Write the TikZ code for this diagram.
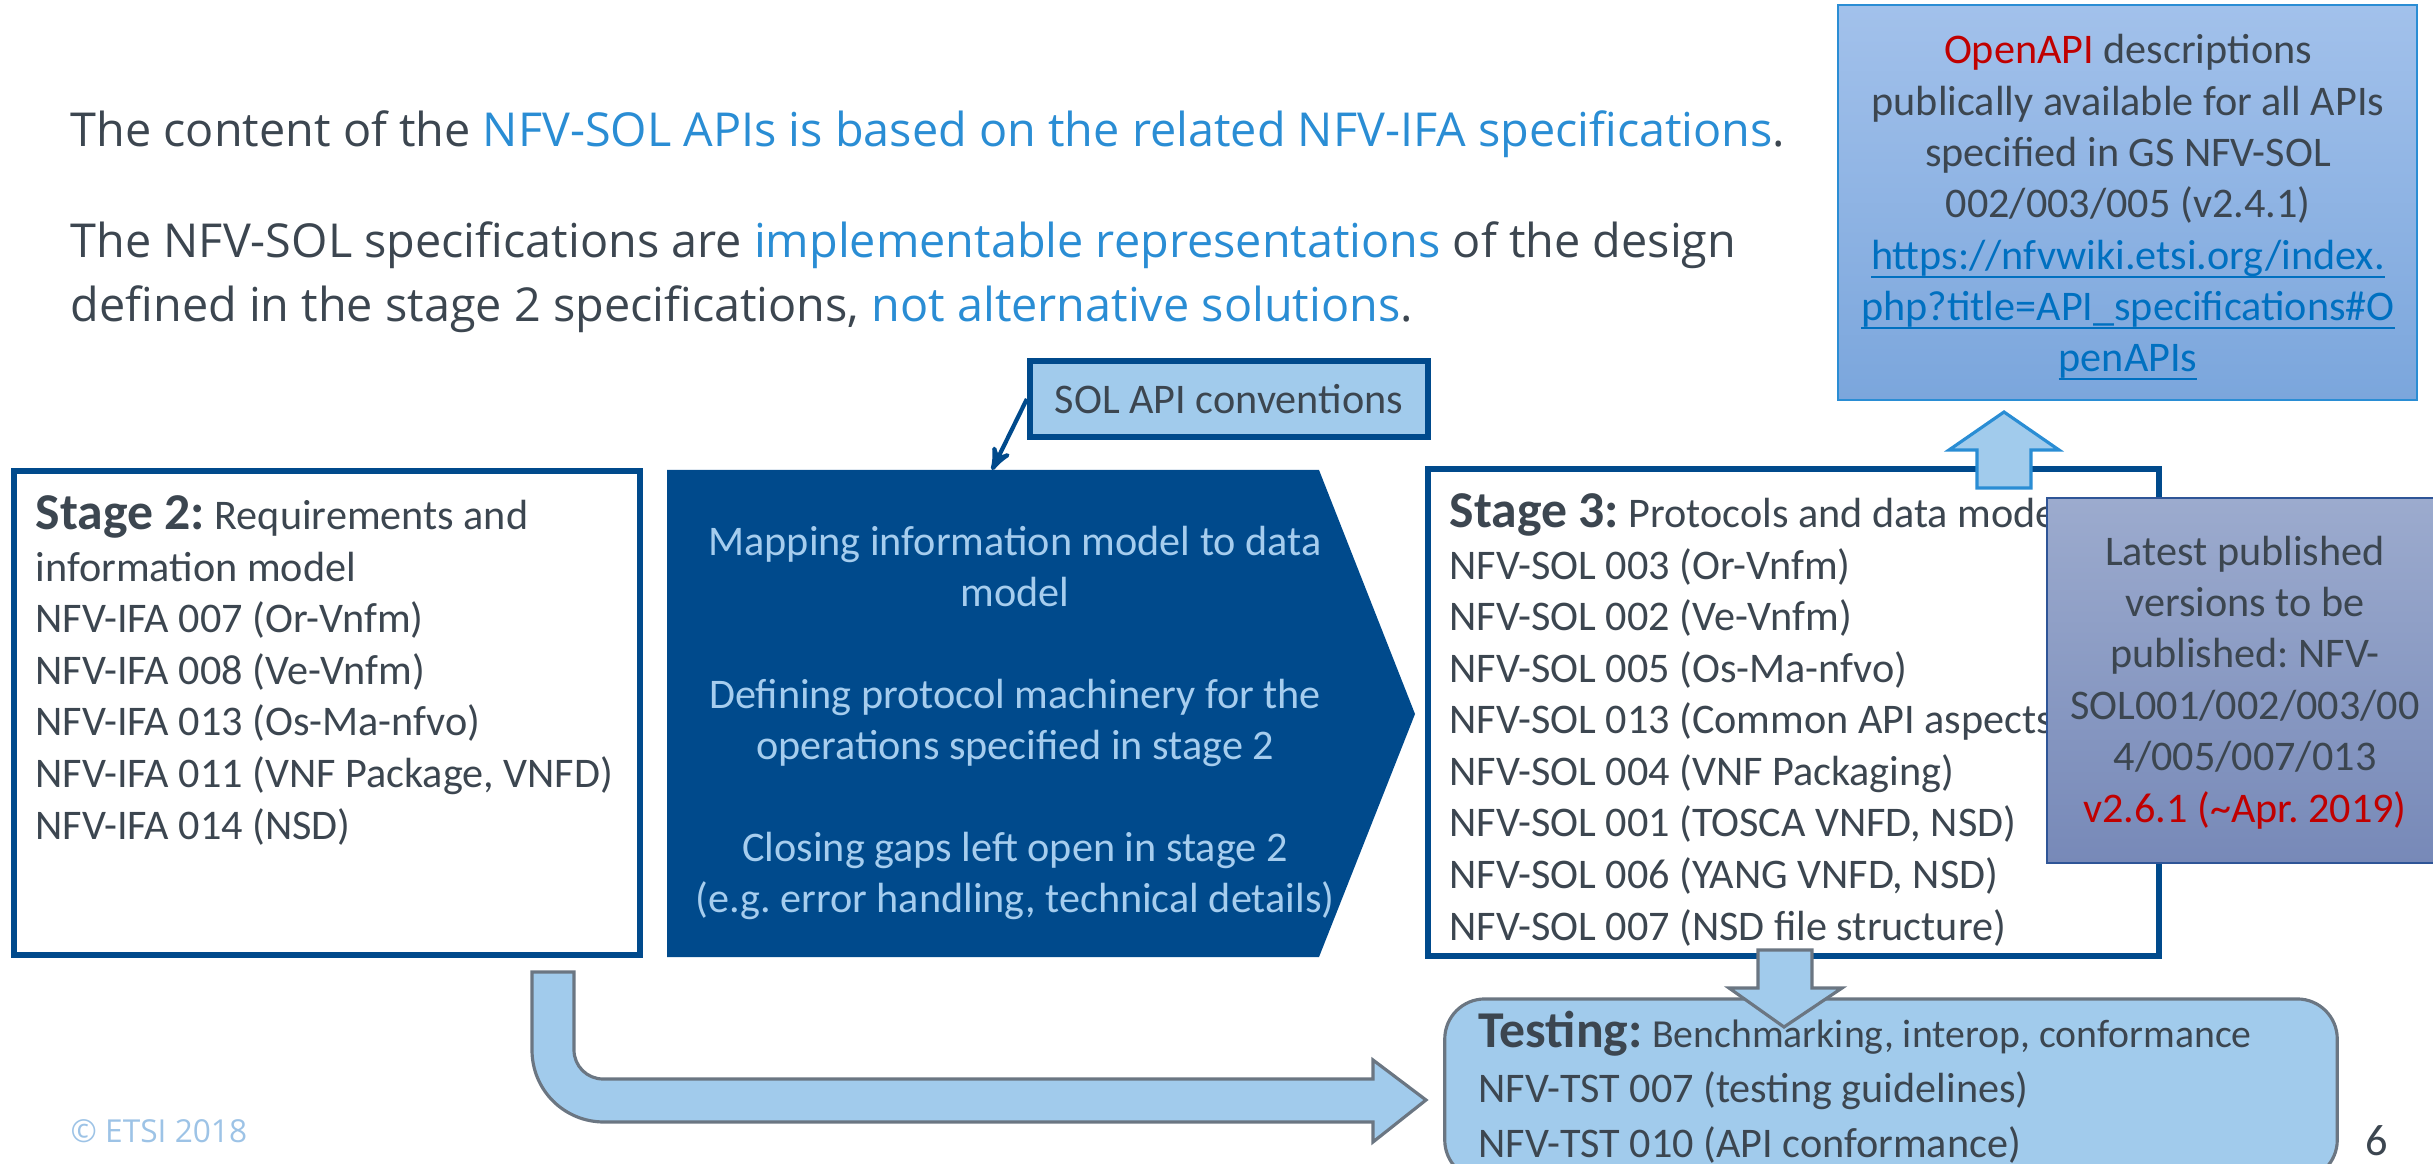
\documentclass[tikz,border=0pt]{standalone}
\usepackage{fontspec}
\setmainfont{Carlito}
\newfontfamily\opensans{Open Sans}
\usetikzlibrary{arrows,positioning}
\frenchspacing

\definecolor{etsidark}{HTML}{004A8C}
\definecolor{etsilight}{HTML}{A1CBEC}
\definecolor{etsiblue}{HTML}{2A8DD4}
\definecolor{txtgray}{HTML}{3C4650}
\definecolor{chevtxt}{HTML}{A6CDEE}
\definecolor{arrgray}{HTML}{6B7682}
\definecolor{linkblue}{HTML}{0070C0}
\definecolor{redtxt}{HTML}{C00000}
\definecolor{copyblue}{HTML}{9DC3E6}
\definecolor{latesttop}{HTML}{9CABCE}
\definecolor{latestbot}{HTML}{7789B8}
\definecolor{latestline}{HTML}{2F5597}
\definecolor{oapitop}{HTML}{A2C1EB}
\definecolor{oapibot}{HTML}{7BA6DC}

\newcommand{\sizelist}{\fontsize{12}{14.65}\selectfont}
\newcommand{\sizehead}{\fontsize{14.7}{16}\selectfont\bfseries}
\newcommand{\sizesub}{\fontsize{11.3}{13}\selectfont}
\newsavebox{\lnkbox}
\newcommand{\lnk}[1]{\sbox{\lnkbox}{#1}\rlap{\rule[-2.4pt]{\wd\lnkbox}{0.6pt}}\usebox{\lnkbox}}

\tikzset{
    %Define standard arrow tip
    >=stealth',
    %Define style for the intro lines
    introtext/.style={
           inner sep=0pt,
           text=txtgray,
           font=\opensans\fontsize{13.3}{18.2}\selectfont},
    %Define style for framed stage boxes
    stagebox/.style={
           rectangle,
           draw=etsidark, line width=1.8pt,
           fill=white},
    %Define style for texts in boxes (placed by their last line)
    listtext/.style={
           inner sep=0pt,
           align=left,
           text=txtgray,
           font=\sizelist},
    boxtext/.style={
           inner sep=0pt,
           align=center,
           text=txtgray,
           font=\fontsize{12}{14.6}\selectfont},
    chevron/.style={
           fill=etsidark},
    chevtext/.style={
           inner sep=0pt,
           align=center,
           text=chevtxt,
           font=\fontsize{12}{14.5}\selectfont},
    solbox/.style={
           rectangle,
           draw=etsidark, line width=1.7pt,
           fill=etsilight,
           text=txtgray,
           minimum width=3.98cm,
           minimum height=0.76cm,
           font=\fontsize{12}{14}\selectfont},
    latestbox/.style={
           rectangle,
           draw=latestline, line width=0.6pt,
           top color=latesttop, bottom color=latestbot,
           minimum width=3.96cm,
           minimum height=3.65cm},
    oapibox/.style={
           rectangle,
           draw=etsiblue, line width=0.7pt,
           top color=oapitop, bottom color=oapibot,
           minimum width=5.79cm,
           minimum height=3.95cm},
    testbox/.style={
           rectangle,
           rounded corners=0.4cm,
           draw=arrgray, line width=0.9pt,
           fill=etsilight,
           minimum width=8.92cm,
           minimum height=1.81cm},
    % Define arrow styles
    convarrow/.style={
           ->,
           draw=etsidark,
           line width=1.2pt},
    blockgray/.style={
           fill=etsilight,
           draw=arrgray,
           line width=0.9pt},
    blockblue/.style={
           fill=etsilight,
           draw=etsiblue,
           line width=0.9pt}
}

\begin{document}
\begin{tikzpicture}[x=0.01cm, y=-0.01cm, node distance=1cm]
 \useasboundingbox (0,0) rectangle (2433,1164);
 \clip (0,0) rectangle (2433,1164);
 %intro
    \node[introtext, anchor=base west] (introone) at (70,147)
        {The content of the \textcolor{etsiblue}{NFV-SOL APIs is based on the related NFV-IFA specifications}.};
    \node[introtext, anchor=base west, align=left] (introtwo) at (70,322)
        {The NFV-SOL specifications are \textcolor{etsiblue}{implementable representations} of the design\\
         defined in the stage 2 specifications, \textcolor{etsiblue}{not alternative solutions}.};
 %nodes
    \node[stagebox, minimum width=6.26cm, minimum height=4.84cm] (stagetwo) at (327,713) {};
    \node[listtext, anchor=base west] (stagetwotxt) at (35,839)
        {{\sizehead Stage 2:} Requirements and\\
         information model\\
         NFV-IFA 007 (Or-Vnfm)\\
         NFV-IFA 008 (Ve-Vnfm)\\
         NFV-IFA 013 (Os-Ma-nfvo)\\
         NFV-IFA 011 (VNF Package, VNFD)\\
         NFV-IFA 014 (NSD)};
    \fill[chevron] (667,470) -- (1319,470) -- (1415,714) -- (1319,957) -- (667,957) -- cycle;
    \coordinate (chevtop) at (992,470);
    \node[chevtext, anchor=base] (chevtxt) at (1015,912)
        {Mapping information model to data\\
         model\\[14.5pt]
         Defining protocol machinery for the\\
         operations specified in stage 2\\[14.5pt]
         Closing gaps left open in stage 2\\
         (e.g. error handling, technical details)};
    \node[solbox] (solconv) at (1229,399) {SOL API conventions};
    \node[stagebox, minimum width=7.31cm, minimum height=4.87cm] (stagethree) at (1793.5,712.5) {};
    \node[listtext, anchor=base west] (stagethreetxt) at (1449,940)
        {{\sizehead Stage 3:} Protocols and data models\\
         NFV-SOL 003 (Or-Vnfm)\\
         NFV-SOL 002 (Ve-Vnfm)\\
         NFV-SOL 005 (Os-Ma-nfvo)\\
         NFV-SOL 013 (Common API aspects)\\
         NFV-SOL 004 (VNF Packaging)\\
         NFV-SOL 001 (TOSCA VNFD, NSD)\\
         NFV-SOL 006 (YANG VNFD, NSD)\\
         NFV-SOL 007 (NSD file structure)};
    \node[latestbox] (latest) at (2245,680.5) {};
    \node[boxtext, anchor=base] (latesttxt) at (2245,822)
        {Latest published\\
         versions to be\\
         published: NFV-\\
         SOL001/002/003/00\\
         4/005/007/013\\
         \textcolor{redtxt}{v2.6.1 (\textasciitilde Apr. 2019)}};
    \node[oapibox] (openapi) at (2127.5,202.5) {};
    \node[boxtext, anchor=base] (openapitxt) at (2128,372)
        {\textcolor{redtxt}{OpenAPI} descriptions\\
         publically available for all APIs\\
         specified in GS NFV-SOL\\
         002/003/005 (v2.4.1)\\
         \textcolor{linkblue}{\lnk{https://nfvwiki.etsi.org/index.}}\\
         \textcolor{linkblue}{\lnk{php?title=API\_specifications\#O}}\\
         \textcolor{linkblue}{\lnk{penAPIs}}};
    \node[testbox] (testing) at (1891,1089.5) {};
 %block arrows
    \filldraw[blockblue] (2004,412) -- (2059,450) -- (2031,450) -- (2031,488)
        -- (1977,488) -- (1977,450) -- (1949,450) -- cycle;
    \filldraw[blockgray] (1758,950) -- (1812,950) -- (1812,988) -- (1842,988)
        -- (1784,1027) -- (1729,988) -- (1758,988) -- cycle;
    \filldraw[blockgray] (532,972) -- (574,972) -- (574,1050)
        .. controls (574,1066) and (587,1079) .. (603,1079) -- (1373,1079)
        -- (1373,1060) -- (1426,1100) -- (1373,1142) -- (1373,1122) -- (604,1122)
        .. controls (564,1122) and (532,1090) .. (532,1050) -- cycle;
    \node[listtext, anchor=base west, font=\fontsize{12}{15.5}\selectfont] (testingtxt) at (1478,1157)
        {{\sizehead Testing:} {\sizesub Benchmarking, interop, conformance}\\
         NFV-TST 007 (testing guidelines)\\
         NFV-TST 010 (API conformance)};
 %footer
    \node[inner sep=0pt, anchor=base west, text=copyblue, font=\opensans\fontsize{9}{11}\selectfont] (copyright) at (70,1142) {\textcopyright{} ETSI 2018};
    \node[inner sep=0pt, anchor=base west, text=txtgray, font=\fontsize{12.6}{14}\selectfont] (pagenum) at (2365,1155) {6};
 %edges
    \draw[convarrow] (solconv.west) -- (chevtop);
\end{tikzpicture}
\end{document}
